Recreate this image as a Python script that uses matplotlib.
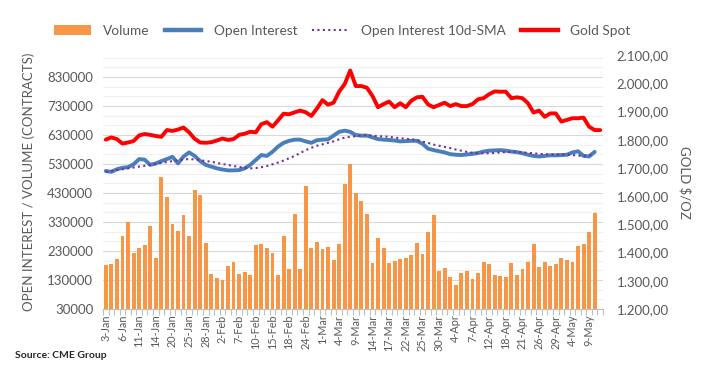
import matplotlib
matplotlib.use("Agg")
import matplotlib.pyplot as plt
from matplotlib.ticker import FuncFormatter, FixedLocator
from matplotlib.lines import Line2D
from matplotlib.patches import Patch
import numpy as np

plt.rcParams['font.family'] = ['Lato', 'DejaVu Sans']

tick_labels = ["3-Jan", "6-Jan", "11-Jan", "14-Jan", "20-Jan", "25-Jan", "28-Jan", "2-Feb",
               "7-Feb", "10-Feb", "15-Feb", "18-Feb", "24-Feb", "1-Mar", "4-Mar", "9-Mar",
               "14-Mar", "17-Mar", "22-Mar", "25-Mar", "30-Mar", "4-Apr", "7-Apr", "12-Apr",
               "18-Apr", "21-Apr", "26-Apr", "29-Apr", "4-May", "9-May"]

volume = [182000, 185000, 202000, 282000, 330000, 222000, 240000, 250000, 316000, 206000,
          485000, 415000, 322000, 299000, 353000, 281000, 440000, 423000, 256000, 151000,
          137000, 130000, 177000, 191000, 151000, 158000, 147000, 250000, 253000, 240000,
          223000, 147000, 282000, 168000, 358000, 168000, 454000, 240000, 261000, 237000,
          244000, 199000, 254000, 461000, 530000, 429000, 402000, 358000, 187000, 274000,
          239000, 187000, 194000, 202000, 206000, 215000, 256000, 220000, 294000, 353000,
          160000, 171000, 140000, 112000, 153000, 160000, 132000, 153000, 191000, 184000,
          146000, 143000, 139000, 187000, 147000, 167000, 191000, 253000, 174000, 191000,
          177000, 184000, 205000, 198000, 191000, 246000, 253000, 294000, 360000]

open_interest = [506000, 503000, 512000, 517000, 519000, 529000, 547000, 545000, 527000, 532000,
                 540000, 547000, 555000, 532000, 556000, 570000, 558000, 540000, 527000, 521000,
                 515000, 511000, 508000, 508000, 509000, 515000, 527000, 544000, 561000, 558000,
                 572000, 590000, 603000, 610000, 614000, 614000, 608000, 603000, 612000, 614000,
                 615000, 628000, 641000, 645000, 641000, 630000, 628000, 628000, 622000, 616000,
                 614000, 613000, 611000, 608000, 609000, 610000, 610000, 600000, 583000, 578000,
                 574000, 570000, 564000, 562000, 561000, 563000, 565000, 568000, 573000, 576000,
                 577000, 578000, 576000, 573000, 571000, 567000, 562000, 558000, 556000, 558000,
                 560000, 560000, 561000, 562000, 570000, 574000, 558000, 556000, 572000]

oi_sma10 = [503000, 506000, 509000, 512000, 515000, 518000, 521000, 524000, 527000, 530000,
            534000, 537000, 540000, 543000, 546000, 547000, 546000, 543000, 540000, 538000,
            534000, 530000, 527000, 523000, 520000, 517000, 515000, 516000, 519000, 523000,
            529000, 535000, 542000, 550000, 558000, 568000, 578000, 586000, 593000, 598000,
            603000, 608000, 615000, 621000, 624000, 626000, 628000, 630000, 628000, 626000,
            625000, 624000, 621000, 619000, 617000, 615000, 613000, 607000, 603000, 597000,
            593000, 589000, 585000, 580000, 576000, 572000, 569000, 567000, 567000, 567000,
            568000, 570000, 571000, 572000, 572000, 570000, 569000, 567000, 565000, 564000,
            563000, 563000, 563000, 562000, 561000, 559000, 558000, 561000, 562000]

gold_spot = [1800, 1808, 1802, 1786, 1790, 1795, 1815, 1820, 1817, 1813,
             1810, 1834, 1831, 1836, 1843, 1826, 1803, 1790, 1789, 1791,
             1797, 1804, 1799, 1802, 1817, 1821, 1828, 1826, 1855, 1862,
             1846, 1868, 1892, 1890, 1897, 1903, 1897, 1884, 1910, 1940,
             1924, 1931, 1970, 1997, 2045, 1990, 1990, 1984, 1955, 1915,
             1926, 1935, 1915, 1929, 1915, 1938, 1950, 1952, 1925, 1915,
             1923, 1931, 1919, 1926, 1919, 1919, 1926, 1943, 1947, 1961,
             1971, 1970, 1970, 1947, 1950, 1947, 1929, 1896, 1903, 1881,
             1893, 1893, 1864, 1870, 1876, 1876, 1878, 1846, 1834, 1834]

n_cat = len(gold_spot)
x_vol = np.arange(len(volume))
x_gold = np.arange(n_cat)

TXT = "#595959"
fig = plt.figure(figsize=(7.1, 3.83), dpi=100)
ax = fig.add_axes([103/710, 1-309/383, 500/710, 254/383])
ax2 = ax.twinx()

ax.set_zorder(1)
ax2.set_zorder(2)
ax.patch.set_visible(False)

# gridlines
ax.set_ylim(30000, 906000)
ax.set_yticks(np.arange(30000, 830001, 100000))
minor = [v for v in np.arange(30000, 906000, 100000/3.0)]
ax.yaxis.set_minor_locator(FixedLocator(minor))
ax.grid(axis='y', which='minor', color='#f0f0f0', lw=0.8, zorder=0)
ax.grid(axis='y', which='major', color='#d9d9d9', lw=0.8, zorder=0)
ax.tick_params(axis='y', which='both', length=0, labelsize=9.5, labelcolor=TXT, pad=7)

ax.bar(x_vol, volume, width=0.7, color='#F79646', zorder=2)
ax.plot(x_vol, open_interest, color='#4A7EBB', lw=2.8, zorder=3, solid_capstyle='round')
ax.plot(x_vol, oi_sma10, color='#7030A0', lw=1.5, ls=(0, (1, 1.6)), zorder=4)

ax2.plot(x_gold, gold_spot, color='#FF0000', lw=2.8, zorder=5, solid_capstyle='round')
ax2.set_ylim(1200, 2100)
ax2.set_yticks(np.arange(1200, 2101, 100))
ax2.yaxis.set_major_formatter(FuncFormatter(
    lambda v, p: "{:,.2f}".format(v).replace(",", "X").replace(".", ",").replace("X", ".")))
ax2.tick_params(axis='y', length=0, labelsize=9.5, labelcolor=TXT, pad=10)

ax.set_xlim(-0.5, n_cat - 0.5)
ax.set_xticks(np.arange(0, 3 * len(tick_labels), 3))
ax.set_xticklabels(tick_labels, rotation=90, fontsize=7.8, color=TXT)
ax.xaxis.set_minor_locator(FixedLocator(np.arange(-0.5, n_cat, 1.0)))
ax.tick_params(axis='x', which='major', length=0, pad=4)
ax.tick_params(axis='x', which='minor', length=4, color='#bfbfbf', width=0.8)

for a in (ax, ax2):
    for s in ('top', 'left', 'right', 'bottom'):
        a.spines[s].set_visible(False)
ax.spines['bottom'].set_visible(True)
ax.spines['bottom'].set_color('#bfbfbf')
ax.spines['bottom'].set_linewidth(0.8)

ax.set_ylabel("OPEN INTEREST / VOLUME (CONTRACTS)", fontsize=9.5, color=TXT, labelpad=9)
ax2.set_ylabel("GOLD $/OZ", fontsize=9.5, color=TXT, rotation=270, labelpad=16)

handles = [Patch(facecolor='#F79646', edgecolor='none'),
           Line2D([], [], color='#4A7EBB', lw=3.2),
           Line2D([], [], color='#7030A0', lw=1.5, ls=(0, (1, 1.6))),
           Line2D([], [], color='#FF0000', lw=3.2)]
labels = ["Volume", "Open Interest", "Open Interest 10d-SMA", "Gold Spot"]
fig.legend(handles, labels, loc='center left', bbox_to_anchor=(42/710, 1 - 31/383), ncol=4,
           frameon=False, fontsize=9.8, labelcolor=TXT, handlelength=2.7,
           handletextpad=0.9, columnspacing=1.1, handleheight=0.8)

fig.text(15/710, 1 - 355/383, "Source: CME Group", fontsize=7.5, fontweight='bold',
         color='#262626', va='center', ha='left')

fig.savefig("out.png", dpi=100, facecolor='white')
